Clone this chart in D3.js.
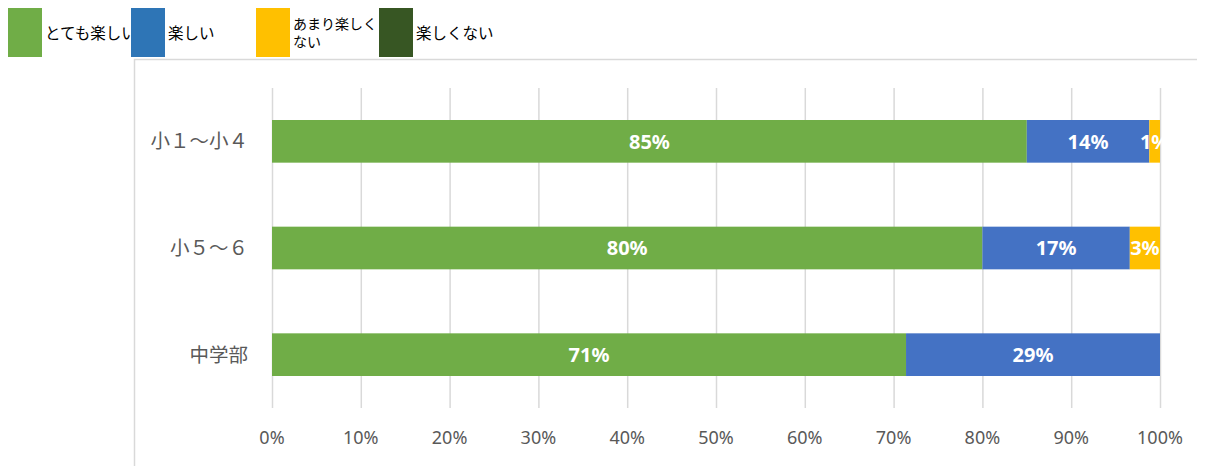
<!DOCTYPE html>
<html>
<head>
<meta charset="utf-8">
<script src="https://cdn.jsdelivr.net/npm/d3@7"></script>
<style>
  body { margin: 0; background: #fff; }
  svg { display: block; font-family: "Noto Sans", "Noto Sans CJK JP", sans-serif; }
</style>
</head>
<body>
<div id="chart"></div>
<script>
// Data
const categories = ['小１～小４', '小５～６', '中学部'];
const seriesNames = ['とても楽しい', '楽しい', 'あまり楽しくない', '楽しくない'];
const veryFun = [85.0, 80.0, 71.4];
const fun = [13.8, 16.6, 28.6];
const notSoFun = [1.2, 3.4, 0];
const notFun = [0, 0, 0];
const ticks = [0, 10, 20, 30, 40, 50, 60, 70, 80, 90, 100];

const barColors = ['#70AD47', '#4472C4', '#FFC000', '#375623'];
const legendColors = ['#70AD47', '#2E75B6', '#FFC000', '#375623'];

const width = 1212, height = 466;
const svg = d3.select('#chart').append('svg')
    .attr('width', width)
    .attr('height', height);

// Chart frame
svg.append('path')
    .attr('d', 'M134.5,466 V59.5 H1197')
    .attr('fill', 'none')
    .attr('stroke', '#d9d9d9')
    .attr('stroke-width', 1.5);

// Scales
const x = d3.scaleLinear().domain([0, 100]).range([272, 1160]);
const y = d3.scaleBand().domain(categories).range([88, 408]).paddingInner(0.6).paddingOuter(0.3);

// Gridlines
svg.append('g')
    .selectAll('line')
    .data(ticks)
    .join('line')
    .attr('x1', d => x(d) + 0.5)
    .attr('x2', d => x(d) + 0.5)
    .attr('y1', 88)
    .attr('y2', 408)
    .attr('stroke', '#d9d9d9')
    .attr('stroke-width', 1.5);

// Stack data
const rows = categories.map((c, i) => ({
    cat: c,
    s0: veryFun[i], s1: fun[i], s2: notSoFun[i], s3: notFun[i]
}));
const stack = d3.stack().keys(['s0', 's1', 's2', 's3']);
const layers = stack(rows);

const groups = svg.append('g')
    .selectAll('g')
    .data(layers)
    .join('g')
    .attr('fill', (d, i) => barColors[i]);

groups.selectAll('rect')
    .data(d => d)
    .join('rect')
    .attr('x', d => x(d[0]))
    .attr('y', d => y(d.data.cat))
    .attr('width', d => x(d[1]) - x(d[0]))
    .attr('height', y.bandwidth());

// Value labels
groups.selectAll('text')
    .data(d => d.filter(v => v[1] - v[0] > 0))
    .join('text')
    .attr('x', d => (x(d[0]) + x(d[1])) / 2)
    .attr('y', d => y(d.data.cat) + y.bandwidth() / 2)
    .attr('dy', '0.36em')
    .attr('text-anchor', 'middle')
    .attr('fill', '#fff')
    .attr('font-weight', 'bold')
    .attr('font-size', 20)
    .text(d => Math.round(d[1] - d[0]) + '%');

// Category labels
svg.append('g')
    .selectAll('text')
    .data(categories)
    .join('text')
    .attr('x', 248)
    .attr('y', d => y(d) + y.bandwidth() / 2)
    .attr('dy', '0.36em')
    .attr('text-anchor', 'end')
    .attr('fill', '#595959')
    .attr('font-size', 19.5)
    .attr('font-family', '"Noto Sans CJK JP", sans-serif')
    .text(d => d);

// X axis tick labels
svg.append('g')
    .selectAll('text')
    .data(ticks)
    .join('text')
    .attr('x', d => x(d))
    .attr('y', 438)
    .attr('dy', '0.36em')
    .attr('text-anchor', 'middle')
    .attr('fill', '#595959')
    .attr('font-size', 18)
    .text(d => d + '%');

// Legend
const legendX = [8, 131, 256, 379];
const legend = svg.append('g')
    .selectAll('g')
    .data(seriesNames)
    .join('g')
    .attr('transform', (d, i) => `translate(${legendX[i]},8)`);

legend.append('rect')
    .attr('width', 34)
    .attr('height', 49)
    .attr('fill', (d, i) => legendColors[i]);

legend.each(function (d, i) {
    const g = d3.select(this);
    const lines = i === 2 ? ['あまり楽しく', 'ない'] : [d];
    lines.forEach((l, k) => {
        g.append('text')
            .attr('x', 37)
            .attr('y', lines.length === 1 ? 31 : 21 + k * 18)
            .attr('font-size', lines.length === 1 ? 15.5 : 14)
            .attr('fill', '#000')
            .attr('font-family', '"Noto Sans CJK JP", sans-serif')
            .text(l);
    });
});
</script>
</body>
</html>
